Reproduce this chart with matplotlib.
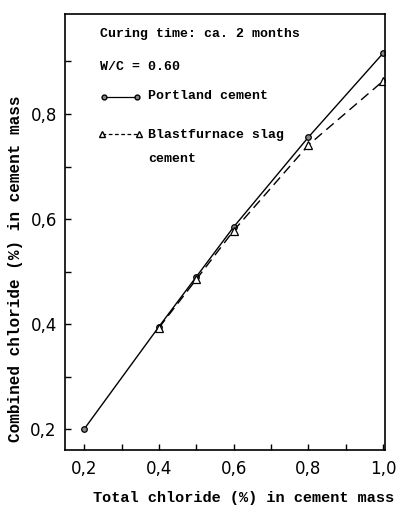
import matplotlib
matplotlib.use("Agg")
import matplotlib.pyplot as plt
from matplotlib.ticker import MultipleLocator, FixedLocator
from matplotlib.lines import Line2D

x_total = [0.2, 0.4, 0.5, 0.6, 0.8, 1.0]
portland = [0.2, 0.395, 0.49, 0.585, 0.756, 0.916]
x_slag = [0.4, 0.5, 0.6, 0.8, 1.0]
slag = [0.393, 0.485, 0.578, 0.741, 0.863]
x_ticks = [0.2, 0.4, 0.6, 0.8, 1.0]
x_ticklabels = ["0,2", "0,4", "0,6", "0,8", "1,0"]
y_ticks = [0.2, 0.4, 0.6, 0.8]
y_ticklabels = ["0,2", "0,4", "0,6", "0,8"]

mono = "Liberation Mono"

fig = plt.figure(figsize=(3.97, 5.08), dpi=100)
ax = fig.add_axes([0.164, 0.114, 0.806, 0.858])
ax.set_xlim(0.149, 1.005)
ax.set_ylim(0.16, 0.99)

ax.plot(x_total, portland, color="black", lw=1.0, marker="o", ms=4,
        mfc="#888888", mec="black", mew=0.9)
ax.plot(x_slag, slag, color="black", lw=1.0, ls=(0, (7, 4)), marker="^", ms=6,
        mfc="white", mec="black", mew=0.9)

ax.xaxis.set_major_locator(FixedLocator(x_ticks))
ax.set_xticklabels(x_ticklabels)
ax.yaxis.set_major_locator(FixedLocator(y_ticks))
ax.set_yticklabels(y_ticklabels)
ax.xaxis.set_minor_locator(MultipleLocator(0.1))
ax.yaxis.set_minor_locator(MultipleLocator(0.1))
ax.tick_params(which="both", direction="in", length=4, width=1)
ax.tick_params(axis="x", pad=7)
ax.tick_params(axis="y", pad=6)
for lab in ax.get_xticklabels() + ax.get_yticklabels():
    lab.set_fontsize(12)
    lab.set_fontfamily("DejaVu Sans")
for s in ax.spines.values():
    s.set_linewidth(1.2)

fig.text(0.993, 0.005, "Total chloride (%) in cement mass", ha="right", va="bottom",
         fontsize=11, fontweight="bold", family=mono)
fig.text(0.038, 0.47, "Combined chloride (%) in cement mass", ha="center", va="center",
         rotation=90, fontsize=11.5, fontweight="bold", family=mono)

tx = ax.transAxes
fs = 9.5
ax.text(0.11, 0.955, "Curing time: ca. 2 months", transform=tx, fontsize=fs,
        family=mono, fontweight="bold", va="center")
ax.text(0.11, 0.88, "W/C = 0.60", transform=tx, fontsize=fs,
        family=mono, fontweight="bold", va="center")
ax.add_line(Line2D([0.12, 0.225], [0.81, 0.81], transform=tx, color="black", lw=0.9,
                   marker="o", ms=3.5, mfc="#888888", mec="black"))
ax.text(0.26, 0.812, "Portland cement", transform=tx, fontsize=fs,
        family=mono, fontweight="bold", va="center")
ax.add_line(Line2D([0.115, 0.23], [0.725, 0.725], transform=tx, color="black", lw=0.9,
                   ls=(0, (3, 2)), marker="^", ms=5, mfc="white", mec="black"))
ax.text(0.26, 0.722, "Blastfurnace slag", transform=tx, fontsize=fs,
        family=mono, fontweight="bold", va="center")
ax.text(0.26, 0.667, "cement", transform=tx, fontsize=fs,
        family=mono, fontweight="bold", va="center")

fig.savefig("out.png", dpi=100)
